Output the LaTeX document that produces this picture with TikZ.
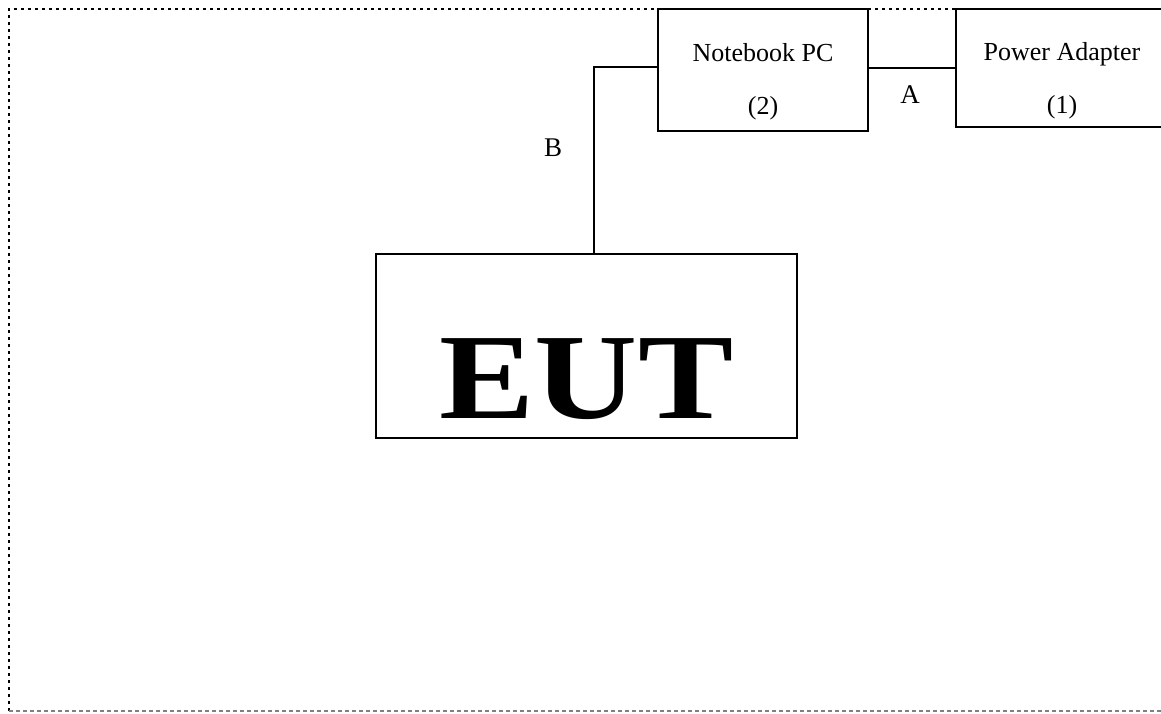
\documentclass[tikz,border=0pt]{standalone}
\usepackage{fontspec}
\setmainfont{Liberation Serif}
\usetikzlibrary{positioning}
\tikzset{%
  DevBox/.style={draw,line width=0.7pt,inner sep=0pt},
  DevText/.style={align=center,font=\fontsize{13}{26.5}\selectfont},
  CableLabel/.style={font=\fontsize{13.5}{15}\selectfont},
  EutText/.style={font=\fontsize{61}{64}\selectfont\bfseries}
}

\begin{document}
\begin{tikzpicture}[x=0.5pt,y=-0.5pt]
  \useasboundingbox (0,0) rectangle (1161,713);
  % frame of the test set-up
  \draw [line width=1.4pt,dash pattern=on 1.4pt off 2.1pt] (9,711) -- (9,9) -- (1161,9);
  \draw [gray,line width=0.7pt,dash pattern=on 2pt off 1.5pt] (9,711) -- (1161,711);
  % devices
  \node[DevBox,minimum width=105pt,minimum height=61pt] (pc) at (763,70) {};
  \node[DevText] (pctxt) at ([yshift=-6pt]pc.center) {Notebook PC\\(2)};
  \node[DevBox,minimum width=106pt,minimum height=59pt] (pa) at (1062,68) {};
  \node[DevText] (patxt) at ([yshift=-6.5pt]pa.center) {Power Adapter\\(1)};
  \node[DevBox,minimum width=210.5pt,minimum height=92pt] (eut) at (586.5,346) {};
  \node[EutText] (euttxt) at ([yshift=-16.5pt]eut.center) {\scalebox{1.17}[1]{EUT}};
  % cables
  \draw [line width=0.7pt] ([yshift=1pt]pc.east) -- ([yshift=0pt]pa.west);
  \draw [line width=0.7pt] ([yshift=1.5pt]pc.west) -| ([xshift=3.75pt]eut.north);
  \node[CableLabel] (lblA) at (910,95) {A};
  \node[CableLabel] (lblB) at (553,148) {B};
\end{tikzpicture}
\end{document}
